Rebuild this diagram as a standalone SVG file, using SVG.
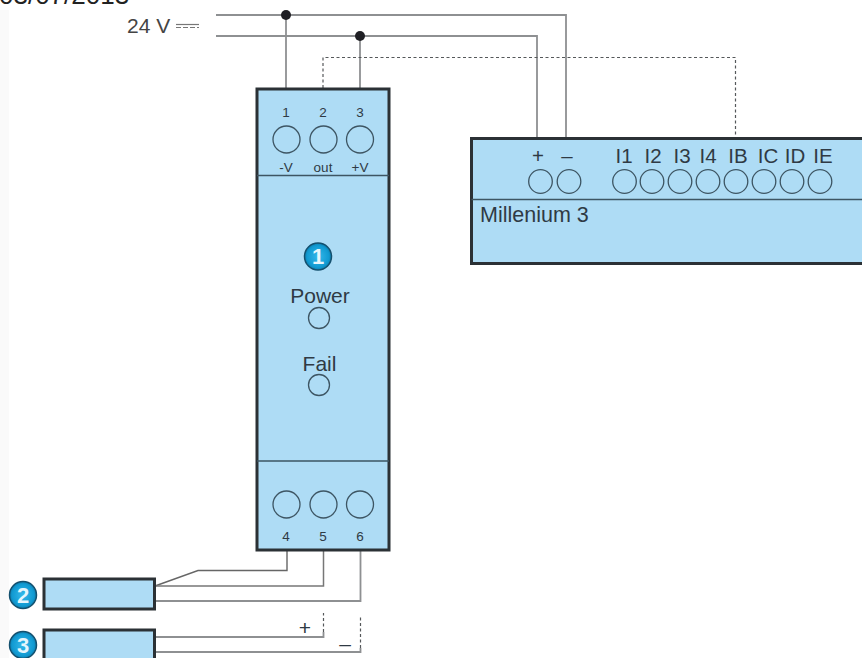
<svg xmlns="http://www.w3.org/2000/svg" width="862" height="658" viewBox="0 0 862 658">
<defs><style>
text{font-family:"Liberation Sans",Arial,sans-serif;fill:#2f3a44}
.box{fill:#aedcf5;stroke:#2b3135;stroke-width:3}
.div{stroke:#3d5563;stroke-width:1.4;fill:none}
.t{fill:none;stroke:#3d5563;stroke-width:1.3}
.w{fill:none;stroke:#8e9092;stroke-width:1.8}
.d{fill:none;stroke:#55585a;stroke-width:1.2;stroke-dasharray:3 2.5}
.s{font-size:13.5px;text-anchor:middle}
.m{font-size:21px;text-anchor:middle}
.b{fill:url(#bullet);stroke:#14506e;stroke-width:1.500}
.n{font-size:22px;font-weight:bold;text-anchor:middle;fill:#e6f6fd}
</style>
<radialGradient id="bullet"><stop offset="0" stop-color="#35b8ea"/><stop offset="0.800" stop-color="#119ad2"/><stop offset="1" stop-color="#0d7fb0"/></radialGradient>
</defs>
<rect width="862" height="658" fill="#fff"/>
<rect x="0" y="10" width="9" height="648" fill="#fafafa"/>
<text x="-1" y="4" style="font-size:26px;fill:#222">03/07/2013</text>
<g id="supply"><text x="127" y="33" style="font-size:21px;fill:#444">24 V</text>
<path d="M176 24.500H199" stroke="#777" stroke-width="1.200"/><path d="M176 27.500H199" stroke="#777" stroke-width="1.200" stroke-dasharray="5 2"/></g>
<g id="connectors">
<path class="w" d="M216 15H566V137"/>
<path class="w" d="M216 36H537V137"/>
<path class="w" d="M286 15V88"/>
<path class="w" d="M360 36V88"/>
<path class="d" d="M323 88V57.500H735.500V137"/>
<circle cx="286" cy="15" r="5" fill="#1f1f24"/>
<circle cx="360" cy="36" r="5" fill="#1f1f24"/>
<path class="w" d="M287 551V570.500H198L155 586" style="stroke-width:1.400;stroke:#666"/>
<path class="w" d="M323.500 551V586H155" style="stroke-width:1.500;stroke:#777"/>
<path class="w" d="M360.500 551V601H155"/>
<path class="w" d="M155 637H323.500V632"/>
<path class="d" d="M323.500 632V613"/>
<path class="w" d="M155 652H360.500V648"/>
<path class="d" d="M360.500 648V616"/>
</g>
<g id="module">
<rect class="box" x="257" y="89" width="132" height="461"/>
<path class="div" d="M257 175.500H389M257 461H389"/>
<text class="s" x="286" y="117">1</text><text class="s" x="323" y="117">2</text><text class="s" x="360" y="117">3</text>
<circle class="t" cx="286.500" cy="139.500" r="13.500"/><circle class="t" cx="323.500" cy="139.500" r="13.500"/><circle class="t" cx="360" cy="139.500" r="13.500"/>
<text class="s" x="286" y="172">-V</text><text class="s" x="323" y="172">out</text><text class="s" x="360" y="172">+V</text>
<circle class="b" cx="318" cy="256.500" r="13.500"/><text class="n" x="318" y="264">1</text>
<text class="m" x="320" y="303">Power</text><circle class="t" cx="319" cy="318" r="10.500"/>
<text class="m" x="319.500" y="371">Fail</text><circle class="t" cx="319" cy="385" r="10.500"/>
<circle class="t" cx="286.500" cy="504.500" r="13.500"/><circle class="t" cx="323.500" cy="504.500" r="13.500"/><circle class="t" cx="360" cy="504.500" r="13.500"/>
<text class="s" x="286" y="541">4</text><text class="s" x="323" y="541">5</text><text class="s" x="360" y="541">6</text>
</g>
<g id="millenium">
<rect class="box" x="471.500" y="138.500" width="400" height="125"/>
<path class="div" d="M471.500 199.500H862"/>
<g style="font-size:20.500px;text-anchor:middle">
<text x="538" y="163">+</text><text x="567" y="163">–</text>
<text x="624" y="163">I1</text><text x="653" y="163">I2</text><text x="682" y="163">I3</text><text x="708" y="163">I4</text><text x="738" y="163">IB</text><text x="768" y="163">IC</text><text x="795" y="163">ID</text><text x="823" y="163">IE</text></g>
<g class="t"><circle cx="540.500" cy="181.500" r="11.800"/><circle cx="569" cy="181.500" r="11.800"/><circle cx="624.500" cy="181.500" r="11.800"/><circle cx="652" cy="181.500" r="11.800"/><circle cx="680" cy="181.500" r="11.800"/><circle cx="708" cy="181.500" r="11.800"/><circle cx="736" cy="181.500" r="11.800"/><circle cx="764" cy="181.500" r="11.800"/><circle cx="792" cy="181.500" r="11.800"/><circle cx="820" cy="181.500" r="11.800"/></g>
<text x="480" y="222" style="font-size:21.500px">Millenium 3</text>
</g>
<g id="sensor2"><circle class="b" cx="23" cy="595" r="13.500"/><text class="n" x="23" y="603">2</text><rect class="box" x="44" y="579" width="110.500" height="30"/></g>
<g id="sensor3"><circle class="b" cx="23" cy="645" r="13.500"/><text class="n" x="23" y="653">3</text><rect class="box" x="44" y="630" width="110.500" height="40"/></g>
<g id="polarity"><text x="305" y="635" style="font-size:21px;text-anchor:middle">+</text><text x="345" y="651" style="font-size:21px;text-anchor:middle">–</text></g>
</svg>
